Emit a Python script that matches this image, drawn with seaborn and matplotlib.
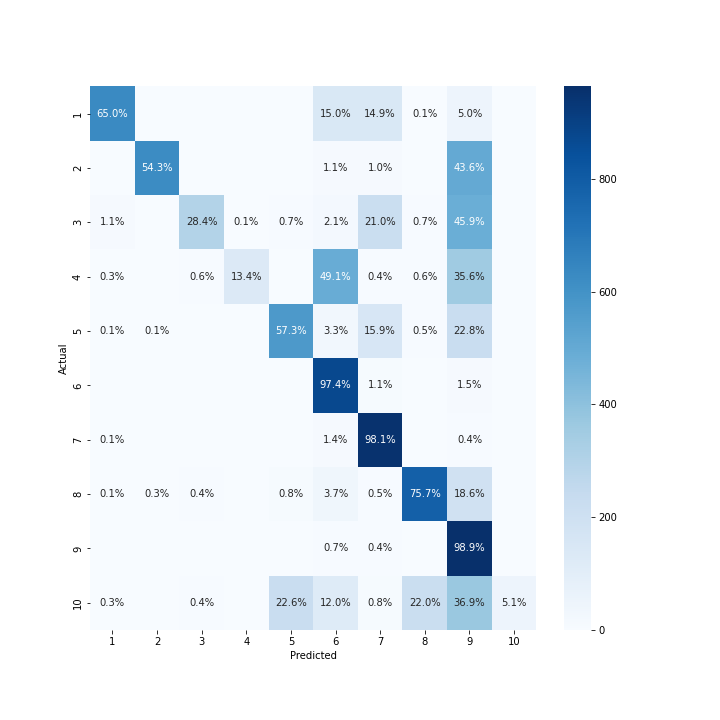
import numpy as np
import pandas as pd
import matplotlib
matplotlib.use('Agg')
import matplotlib.pyplot as plt
import seaborn as sns

# Classes (linhas = real, colunas = previsto)
classes = ['1', '2', '3', '4', '5', '6', '7', '8', '9', '10']

# Percentual por linha (0 = celula vazia)
pct = np.array([
    [65.0, 0.0, 0.0, 0.0, 0.0, 15.0, 14.9, 0.1, 5.0, 0.0],
    [0.0, 54.3, 0.0, 0.0, 0.0, 1.1, 1.0, 0.0, 43.6, 0.0],
    [1.1, 0.0, 28.4, 0.1, 0.7, 2.1, 21.0, 0.7, 45.9, 0.0],
    [0.3, 0.0, 0.6, 13.4, 0.0, 49.1, 0.4, 0.6, 35.6, 0.0],
    [0.1, 0.1, 0.0, 0.0, 57.3, 3.3, 15.9, 0.5, 22.8, 0.0],
    [0.0, 0.0, 0.0, 0.0, 0.0, 97.4, 1.1, 0.0, 1.5, 0.0],
    [0.1, 0.0, 0.0, 0.0, 0.0, 1.4, 98.1, 0.0, 0.4, 0.0],
    [0.1, 0.3, 0.4, 0.0, 0.8, 3.7, 0.5, 75.7, 18.6, 0.0],
    [0.0, 0.0, 0.0, 0.0, 0.0, 0.7, 0.4, 0.0, 98.9, 0.0],
    [0.3, 0.0, 0.4, 0.0, 22.6, 12.0, 0.8, 22.0, 36.9, 5.1],
])

# Total de amostras por classe real (estimado pela cor)
totais = np.array([972, 1150, 1055, 1000, 993, 900, 973, 1040, 975, 1005])

# Contagens usadas para a cor
contagens = np.round(pct * totais[:, None] / 100).astype(int)
df_cm = pd.DataFrame(contagens, index=classes, columns=classes)

# Rotulos de texto: percentual, vazio se zero
rotulos = np.array([[f'{p:.1f}%' if p > 0 else '' for p in linha] for linha in pct])

fig, ax = plt.subplots(figsize=(10, 10), dpi=72)
fig.subplots_adjust(left=0.125, right=0.9, bottom=0.125, top=0.88)

sns.heatmap(df_cm, annot=rotulos, fmt='', cmap='Blues', ax=ax)
ax.set_xlabel('Predicted')
ax.set_ylabel('Actual')
plt.setp(ax.get_yticklabels(), rotation=90, va='center')

fig.savefig('out.png', dpi=72)
